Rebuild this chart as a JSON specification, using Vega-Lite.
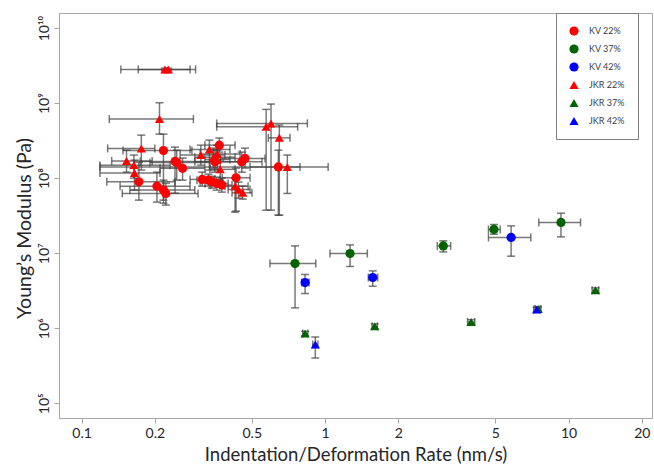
{
  "$schema": "https://vega.github.io/schema/vega-lite/v6.json",
  "width": 593,
  "height": 405,
  "autosize": {"type": "none"},
  "padding": {"left": 59, "top": 13, "right": 2, "bottom": 50},
  "background": "white",
  "config": {
    "view": {"stroke": "#a6a6a6", "strokeWidth": 1},
    "font": "Lato",
    "axis": {"grid": false, "domainColor": "#a6a6a6", "tickColor": "#a6a6a6", "tickSize": 5, "labelFont": "Lato", "labelFontSize": 14, "labelColor": "#262626", "titleFont": "Lato", "titleFontSize": 18.5, "titleFontWeight": "normal", "titleColor": "#262626"},
    "axisY": {"labelAngle": 270, "labelAlign": "center", "labelBaseline": "bottom", "labelPadding": 3, "titlePadding": 3, "titleFontSize": 19.5, "titleY": 215},
    "axisX": {"labelPadding": 3, "titlePadding": 5}
  },
  "data": {"values": [
    {"s": "KV 22%", "x": 0.217, "xlo": 0.148, "xhi": 0.284, "y": 2.33e8, "ylo": 4.64e7, "yhi": 3.86e8},
    {"s": "KV 22%", "x": 0.172, "xlo": 0.127, "xhi": 0.242, "y": 8.93e7, "ylo": 5.09e7, "yhi": 1.63e8},
    {"s": "KV 22%", "x": 0.242, "xlo": 0.174, "xhi": 0.353, "y": 1.67e8, "ylo": 6.31e7, "yhi": 2.59e8},
    {"s": "KV 22%", "x": 0.246, "xlo": 0.191, "xhi": 0.337, "y": 1.61e8, "ylo": 9.4e7, "yhi": 2.36e8},
    {"s": "KV 22%", "x": 0.260, "xlo": 0.210, "xhi": 0.321, "y": 1.35e8, "ylo": 9.4e7, "yhi": 1.85e8},
    {"s": "KV 22%", "x": 0.204, "xlo": 0.144, "xhi": 0.279, "y": 7.82e7, "ylo": 4.79e7, "yhi": 1.20e8},
    {"s": "KV 22%", "x": 0.217, "xlo": 0.158, "xhi": 0.292, "y": 6.92e7, "ylo": 5.09e7, "yhi": 9.4e7},
    {"s": "KV 22%", "x": 0.222, "xlo": 0.147, "xhi": 0.301, "y": 6.25e7, "ylo": 4.37e7, "yhi": 8.58e7},
    {"s": "KV 22%", "x": 0.368, "xlo": 0.321, "xhi": 0.427, "y": 2.75e8, "ylo": 2.22e8, "yhi": 3.42e8},
    {"s": "KV 22%", "x": 0.353, "xlo": 0.292, "xhi": 0.448, "y": 1.65e8, "ylo": 1.20e8, "yhi": 2.36e8},
    {"s": "KV 22%", "x": 0.469, "xlo": 0.371, "xhi": 0.567, "y": 1.83e8, "ylo": 1.36e8, "yhi": 2.51e8},
    {"s": "KV 22%", "x": 0.455, "xlo": 0.353, "xhi": 0.551, "y": 1.65e8, "ylo": 1.20e8, "yhi": 2.22e8},
    {"s": "KV 22%", "x": 0.313, "xlo": 0.279, "xhi": 0.353, "y": 9.61e7, "ylo": 7.82e7, "yhi": 1.20e8},
    {"s": "KV 22%", "x": 0.332, "xlo": 0.298, "xhi": 0.371, "y": 9.4e7, "ylo": 7.82e7, "yhi": 1.13e8},
    {"s": "KV 22%", "x": 0.343, "xlo": 0.307, "xhi": 0.378, "y": 8.93e7, "ylo": 7.36e7, "yhi": 1.06e8},
    {"s": "KV 22%", "x": 0.359, "xlo": 0.321, "xhi": 0.400, "y": 8.5e7, "ylo": 6.92e7, "yhi": 1.03e8},
    {"s": "KV 22%", "x": 0.377, "xlo": 0.337, "xhi": 0.415, "y": 8.07e7, "ylo": 6.51e7, "yhi": 1.0e8},
    {"s": "KV 22%", "x": 0.431, "xlo": 0.378, "xhi": 0.492, "y": 1.01e8, "ylo": 3.63e7, "yhi": 1.36e8},
    {"s": "KV 22%", "x": 0.643, "xlo": 0.492, "xhi": 0.789, "y": 1.41e8, "ylo": 3.21e7, "yhi": 2.36e8},
    {"s": "JKR 22%", "x": 0.220, "xlo": 0.145, "xhi": 0.294, "y": 2.81e9, "ylo": 2.7e9, "yhi": 2.92e9},
    {"s": "JKR 22%", "x": 0.227, "xlo": 0.171, "xhi": 0.279, "y": 2.81e9, "ylo": 2.7e9, "yhi": 2.92e9},
    {"s": "JKR 22%", "x": 0.209, "xlo": 0.130, "xhi": 0.288, "y": 6.12e8, "ylo": 3.86e8, "yhi": 1.01e9},
    {"s": "JKR 22%", "x": 0.176, "xlo": 0.128, "xhi": 0.200, "y": 2.49e8, "ylo": 1.28e8, "yhi": 3.74e8},
    {"s": "JKR 22%", "x": 0.153, "xlo": 0.133, "xhi": 0.195, "y": 1.69e8, "ylo": 1.20e8, "yhi": 2.36e8},
    {"s": "JKR 22%", "x": 0.164, "xlo": 0.119, "xhi": 0.231, "y": 1.49e8, "ylo": 1.0e8, "yhi": 2.03e8},
    {"s": "JKR 22%", "x": 0.165, "xlo": 0.119, "xhi": 0.210, "y": 1.17e8, "ylo": 6.92e7, "yhi": 1.74e8},
    {"s": "JKR 22%", "x": 0.309, "xlo": 0.254, "xhi": 0.388, "y": 2.03e8, "ylo": 1.49e8, "yhi": 2.75e8},
    {"s": "JKR 22%", "x": 0.335, "xlo": 0.279, "xhi": 0.407, "y": 2.41e8, "ylo": 1.28e8, "yhi": 3.21e8},
    {"s": "JKR 22%", "x": 0.348, "xlo": 0.292, "xhi": 0.427, "y": 1.89e8, "ylo": 1.36e8, "yhi": 2.51e8},
    {"s": "JKR 22%", "x": 0.361, "xlo": 0.307, "xhi": 0.448, "y": 2.09e8, "ylo": 1.58e8, "yhi": 2.75e8},
    {"s": "JKR 22%", "x": 0.361, "xlo": 0.321, "xhi": 0.407, "y": 1.77e8, "ylo": 1.28e8, "yhi": 2.36e8},
    {"s": "JKR 22%", "x": 0.371, "xlo": 0.337, "xhi": 0.427, "y": 1.31e8, "ylo": 9.4e7, "yhi": 1.74e8},
    {"s": "JKR 22%", "x": 0.427, "xlo": 0.388, "xhi": 0.483, "y": 7.82e7, "ylo": 3.52e7, "yhi": 1.0e8},
    {"s": "JKR 22%", "x": 0.441, "xlo": 0.400, "xhi": 0.492, "y": 7.06e7, "ylo": 5.41e7, "yhi": 8.85e7},
    {"s": "JKR 22%", "x": 0.459, "xlo": 0.415, "xhi": 0.501, "y": 6.37e7, "ylo": 5.25e7, "yhi": 7.82e7},
    {"s": "JKR 22%", "x": 0.573, "xlo": 0.359, "xhi": 0.772, "y": 4.83e8, "ylo": 3.74e7, "yhi": 8.24e8},
    {"s": "JKR 22%", "x": 0.600, "xlo": 0.359, "xhi": 0.846, "y": 5.36e8, "ylo": 3.74e7, "yhi": 9.7e8},
    {"s": "JKR 22%", "x": 0.649, "xlo": 0.585, "xhi": 0.718, "y": 3.44e8, "ylo": 3.21e7, "yhi": 5.09e8},
    {"s": "JKR 22%", "x": 0.700, "xlo": 0.119, "xhi": 1.03, "y": 1.41e8, "ylo": 6.25e7, "yhi": 2.03e8},
    {"s": "KV 37%", "x": 0.753, "xlo": 0.594, "xhi": 0.916, "y": 7.28e6, "ylo": 1.87e6, "yhi": 1.25e7},
    {"s": "KV 37%", "x": 1.267, "xlo": 1.048, "xhi": 1.492, "y": 9.9e6, "ylo": 6.65e6, "yhi": 1.29e7},
    {"s": "KV 37%", "x": 3.06, "xlo": 2.89, "xhi": 3.28, "y": 1.25e7, "ylo": 1.04e7, "yhi": 1.46e7},
    {"s": "KV 37%", "x": 4.94, "xlo": 4.69, "xhi": 5.24, "y": 2.07e7, "ylo": 1.79e7, "yhi": 2.41e7},
    {"s": "KV 37%", "x": 9.31, "xlo": 7.55, "xhi": 11.2, "y": 2.57e7, "ylo": 1.65e7, "yhi": 3.41e7},
    {"s": "KV 42%", "x": 0.828, "xlo": 0.802, "xhi": 0.860, "y": 4.06e6, "ylo": 2.90e6, "yhi": 5.2e6},
    {"s": "KV 42%", "x": 1.57, "xlo": 1.506, "xhi": 1.645, "y": 4.74e6, "ylo": 3.63e6, "yhi": 5.81e6},
    {"s": "KV 42%", "x": 5.81, "xlo": 4.69, "xhi": 7.0, "y": 1.62e7, "ylo": 9.12e6, "yhi": 2.31e7},
    {"s": "JKR 37%", "x": 0.828, "xlo": 0.81, "xhi": 0.85, "y": 8.5e5, "ylo": 7.9e5, "yhi": 9.1e5},
    {"s": "JKR 37%", "x": 1.60, "xlo": 1.56, "xhi": 1.64, "y": 1.06e6, "ylo": 9.8e5, "yhi": 1.14e6},
    {"s": "JKR 37%", "x": 3.98, "xlo": 3.85, "xhi": 4.12, "y": 1.21e6, "ylo": 1.12e6, "yhi": 1.30e6},
    {"s": "JKR 37%", "x": 12.9, "xlo": 12.5, "xhi": 13.3, "y": 3.21e6, "ylo": 2.98e6, "yhi": 3.45e6},
    {"s": "JKR 37%", "x": 7.5, "xlo": 7.3, "xhi": 7.7, "y": 1.8e6, "ylo": 1.68e6, "yhi": 1.93e6},
    {"s": "JKR 42%", "x": 0.912, "xlo": 0.89, "xhi": 0.935, "y": 6.06e5, "ylo": 4.02e5, "yhi": 7.66e5},
    {"s": "JKR 42%", "x": 7.40, "xlo": 7.2, "xhi": 7.6, "y": 1.77e6, "ylo": 1.65e6, "yhi": 1.9e6}
  ]},
  "layer": [
    {
      "mark": {"type": "rule", "color": "#404040", "opacity": 0.7, "strokeWidth": 1.5},
      "encoding": {
        "x": {"field": "xlo", "type": "quantitative", "title": "Indentation/Deformation Rate (nm/s)", "scale": {"type": "log", "domain": [0.0808, 22.02], "nice": false},
              "axis": {"values": [0.1, 0.2, 0.5, 1, 2, 5, 10, 20], "labelExpr": "format(datum.value, '~g')"}},
        "x2": {"field": "xhi"},
        "y": {"field": "y", "type": "quantitative", "title": "Young’s Modulus (Pa)", "scale": {"type": "log", "domain": [63680, 1.585e10], "nice": false},
              "axis": {"values": [1e5, 1e6, 1e7, 1e8, 1e9, 1e10], "labelExpr": "datum.value >= 1e10 ? '10¹⁰' : datum.value >= 1e9 ? '10⁹' : datum.value >= 1e8 ? '10⁸' : datum.value >= 1e7 ? '10⁷' : datum.value >= 1e6 ? '10⁶' : '10⁵'"}}
      }
    },
    {
      "mark": {"type": "rule", "color": "#404040", "opacity": 0.7, "strokeWidth": 1.5},
      "encoding": {
        "x": {"field": "x", "type": "quantitative", "title": "Indentation/Deformation Rate (nm/s)", "scale": {"type": "log", "domain": [0.0808, 22.02], "nice": false}},
        "y": {"field": "ylo", "type": "quantitative", "title": "Young’s Modulus (Pa)", "scale": {"type": "log", "domain": [63680, 1.585e10], "nice": false}},
        "y2": {"field": "yhi"}
      }
    },
    {
      "mark": {"type": "tick", "orient": "vertical", "color": "#404040", "opacity": 0.7, "size": 8, "thickness": 1.5},
      "encoding": {
        "x": {"field": "xlo", "type": "quantitative", "title": "Indentation/Deformation Rate (nm/s)", "scale": {"type": "log", "domain": [0.0808, 22.02], "nice": false}},
        "y": {"field": "y", "type": "quantitative", "title": "Young’s Modulus (Pa)", "scale": {"type": "log", "domain": [63680, 1.585e10], "nice": false}}
      }
    },
    {
      "mark": {"type": "tick", "orient": "vertical", "color": "#404040", "opacity": 0.7, "size": 8, "thickness": 1.5},
      "encoding": {
        "x": {"field": "xhi", "type": "quantitative", "title": "Indentation/Deformation Rate (nm/s)", "scale": {"type": "log", "domain": [0.0808, 22.02], "nice": false}},
        "y": {"field": "y", "type": "quantitative", "title": "Young’s Modulus (Pa)", "scale": {"type": "log", "domain": [63680, 1.585e10], "nice": false}}
      }
    },
    {
      "mark": {"type": "tick", "orient": "horizontal", "color": "#404040", "opacity": 0.7, "size": 8, "thickness": 1.5},
      "encoding": {
        "x": {"field": "x", "type": "quantitative", "title": "Indentation/Deformation Rate (nm/s)", "scale": {"type": "log", "domain": [0.0808, 22.02], "nice": false}},
        "y": {"field": "ylo", "type": "quantitative", "title": "Young’s Modulus (Pa)", "scale": {"type": "log", "domain": [63680, 1.585e10], "nice": false}}
      }
    },
    {
      "mark": {"type": "tick", "orient": "horizontal", "color": "#404040", "opacity": 0.7, "size": 8, "thickness": 1.5},
      "encoding": {
        "x": {"field": "x", "type": "quantitative", "title": "Indentation/Deformation Rate (nm/s)", "scale": {"type": "log", "domain": [0.0808, 22.02], "nice": false}},
        "y": {"field": "yhi", "type": "quantitative", "title": "Young’s Modulus (Pa)", "scale": {"type": "log", "domain": [63680, 1.585e10], "nice": false}}
      }
    },
    {
      "mark": {"type": "point", "filled": true, "opacity": 1, "size": 85},
      "encoding": {
        "x": {"field": "x", "type": "quantitative", "title": "Indentation/Deformation Rate (nm/s)", "scale": {"type": "log", "domain": [0.0808, 22.02], "nice": false}},
        "y": {"field": "y", "type": "quantitative", "title": "Young’s Modulus (Pa)", "scale": {"type": "log", "domain": [63680, 1.585e10], "nice": false}},
        "color": {"field": "s", "type": "nominal",
                  "scale": {"domain": ["KV 22%", "KV 37%", "KV 42%", "JKR 22%", "JKR 37%", "JKR 42%"], "range": ["#ff0000", "#006400", "#0000ff", "#ff0000", "#006400", "#0000ff"]},
                  "legend": {"title": null, "orient": "none", "legendX": 497, "legendY": 0, "strokeColor": "#808080", "fillColor": "white", "padding": 13, "labelFont": "Lato", "labelFontSize": 9, "labelColor": "#404040", "rowPadding": 8, "labelOffset": 10, "symbolSize": 85, "symbolStrokeWidth": 0, "labelExpr": "datum.label + '         '"}},
        "shape": {"field": "s", "type": "nominal",
                  "scale": {"domain": ["KV 22%", "KV 37%", "KV 42%", "JKR 22%", "JKR 37%", "JKR 42%"], "range": ["circle", "circle", "circle", "triangle-up", "triangle-up", "triangle-up"]},
                  "legend": {"title": null, "orient": "none", "legendX": 497, "legendY": 0, "strokeColor": "#808080", "fillColor": "white", "padding": 13, "labelFont": "Lato", "labelFontSize": 9, "labelColor": "#404040", "rowPadding": 8, "labelOffset": 10, "symbolSize": 85, "symbolStrokeWidth": 0, "labelExpr": "datum.label + '         '"}}
      }
    }
  ]
}
